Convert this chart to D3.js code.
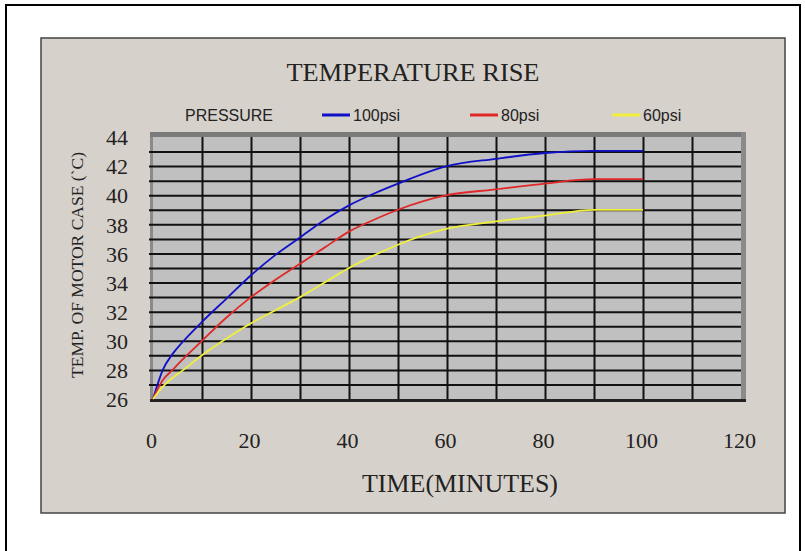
<!DOCTYPE html>
<html>
<head>
<meta charset="utf-8">
<script src="https://cdn.jsdelivr.net/npm/d3@7"></script>
<style>
  body { margin:0; background:#fff; }
  svg { display:block; }
</style>
</head>
<body>
<svg class="chart"></svg>
<script>
// datos
var minutes = [0,2,4,6,10,15,20,25,30,35,40,45,50,60,70,80,90,100];
var psi100 = [26,28.0,29.1,29.9,31.3,32.9,34.5,35.9,37.1,38.3,39.3,40.1,40.8,42,42.5,42.9,43.05,43.05];
var psi80  = [26,27.3,28,28.7,30,31.6,33,34.2,35.3,36.4,37.5,38.3,39,40,40.4,40.8,41.1,41.1];
var psi60  = [26,26.85,27.45,27.95,29,30.15,31.2,32.1,33,34,35,35.85,36.6,37.7,38.2,38.6,39,39];
var seriesNames = ["100psi","80psi","60psi"];
var seriesColors = ["#1010c8","#e02828","#f0f03c"];
var xTicks = [0,20,40,60,80,100,120];
var yTicks = [26,28,30,32,34,36,38,40,42,44];

var series = [psi100,psi80,psi60].map(function(vals,i){
  return {name:seriesNames[i], color:seriesColors[i],
          values: minutes.map(function(m,j){ return {t:m, v:vals[j]}; })};
});

var W = 805, H = 551;
var canvas = d3.select(".chart").attr("width",W).attr("height",H);

// marco exterior y panel
canvas.append("rect").attr("x",6).attr("y",5).attr("width",794).attr("height",570)
  .attr("fill","#fff").attr("stroke","#000").attr("stroke-width",2);
canvas.append("rect").attr("x",41).attr("y",38).attr("width",744).attr("height",475)
  .attr("fill","#d7d1cb").attr("stroke","#444").attr("stroke-width",1.5);

var x = d3.scaleLinear().domain([0,120]).range([153,741]);
var y = d3.scaleLinear().domain([26,44]).range([399,137]);

// fondo del area de trazado
canvas.append("rect").attr("x",x(0)).attr("y",y(44))
  .attr("width",x(120)-x(0)).attr("height",y(26)-y(44)).attr("fill","#c0c0c0");
canvas.append("line").attr("x1",x(0)-1.5).attr("x2",x(0)-1.5)
  .attr("y1",y(44)-4).attr("y2",y(26)+2).attr("stroke","#8a8a8a").attr("stroke-width",3);

// grilla
var gx = canvas.append("g").attr("transform","translate(0,"+y(26)+")")
  .call(d3.axisBottom(x).tickValues(d3.range(10,120,10)).tickSize(-(y(26)-y(44))).tickFormat(""));
gx.select(".domain").remove();
gx.selectAll("line").attr("stroke","#111").attr("stroke-width",2);

var gy = canvas.append("g").attr("transform","translate("+x(120)+",0)")
  .call(d3.axisLeft(y).tickValues(d3.range(27,44,1)).tickSize(x(120)-x(0)+4).tickFormat(""));
gy.select(".domain").remove();
gy.selectAll("line").attr("stroke","#111").attr("stroke-width",2);

// bordes
canvas.append("line").attr("x1",x(0)-3).attr("x2",x(120)+5)
  .attr("y1",y(44)-2.5).attr("y2",y(44)-2.5).attr("stroke","#7a7a7a").attr("stroke-width",5);
canvas.append("line").attr("x1",x(120)+2.5).attr("x2",x(120)+2.5)
  .attr("y1",y(44)-5).attr("y2",y(26)+3).attr("stroke","#8a8a8a").attr("stroke-width",5);
canvas.append("line").attr("x1",x(0)-3).attr("x2",x(120)+5)
  .attr("y1",y(26)+1.5).attr("y2",y(26)+1.5).attr("stroke","#222").attr("stroke-width",3);

// curvas
var line = d3.line().x(d=>x(d.t)).y(d=>y(d.v)).curve(d3.curveMonotoneX);
canvas.selectAll("path.serie").data(series).enter()
  .append("path").attr("class","serie")
  .attr("d",d=>line(d.values))
  .attr("fill","none").attr("stroke",d=>d.color).attr("stroke-width",1.8);

// etiquetas de ejes
var ax = canvas.append("g").attr("transform","translate(-2,"+(y(26)+33)+")")
  .call(d3.axisBottom(x).tickValues(xTicks).tickSize(0).tickPadding(0));
ax.select(".domain").remove();
ax.selectAll("text").attr("font-family","Liberation Serif").attr("font-size",22)
  .attr("fill","#222").attr("dy","0.71em");

var ay = canvas.append("g").attr("transform","translate("+x(0)+",0)")
  .call(d3.axisLeft(y).tickValues(yTicks).tickSize(0).tickPadding(25));
ay.select(".domain").remove();
ay.selectAll("text").attr("font-family","Liberation Serif").attr("font-size",22)
  .attr("fill","#222").attr("dy","0.35em");

// titulos
canvas.append("text").attr("x",413).attr("y",81).attr("text-anchor","middle")
  .attr("font-family","Liberation Serif").attr("font-size",25).attr("fill","#222")
  .attr("textLength",253).attr("lengthAdjust","spacingAndGlyphs")
  .text("TEMPERATURE RISE");
canvas.append("text").attr("x",460).attr("y",492).attr("text-anchor","middle")
  .attr("font-family","Liberation Serif").attr("font-size",25).attr("fill","#222")
  .attr("textLength",196).attr("lengthAdjust","spacingAndGlyphs")
  .text("TIME(MINUTES)");
canvas.append("text").attr("transform","translate(83,265) rotate(-90)")
  .attr("text-anchor","middle")
  .attr("font-family","Liberation Serif").attr("font-size",17).attr("fill","#222")
  .attr("textLength",226).attr("lengthAdjust","spacingAndGlyphs")
  .text("TEMP. OF MOTOR CASE (`C)");

// leyenda
var legX = [322,470,612];
canvas.append("text").attr("x",185).attr("y",121)
  .attr("font-family","Liberation Sans").attr("font-size",16).attr("fill","#222")
  .text("PRESSURE");
var leg = canvas.selectAll("g.leg").data(series).enter()
  .append("g").attr("class","leg")
  .attr("transform",(d,i)=>"translate("+legX[i]+",115)");
leg.append("line").attr("x1",0).attr("x2",28).attr("y1",0).attr("y2",0)
  .attr("stroke",d=>d.color).attr("stroke-width",3);
leg.append("text").attr("x",31).attr("y",6)
  .attr("font-family","Liberation Sans").attr("font-size",16).attr("fill","#222")
  .text(d=>d.name);
</script>
</body>
</html>
